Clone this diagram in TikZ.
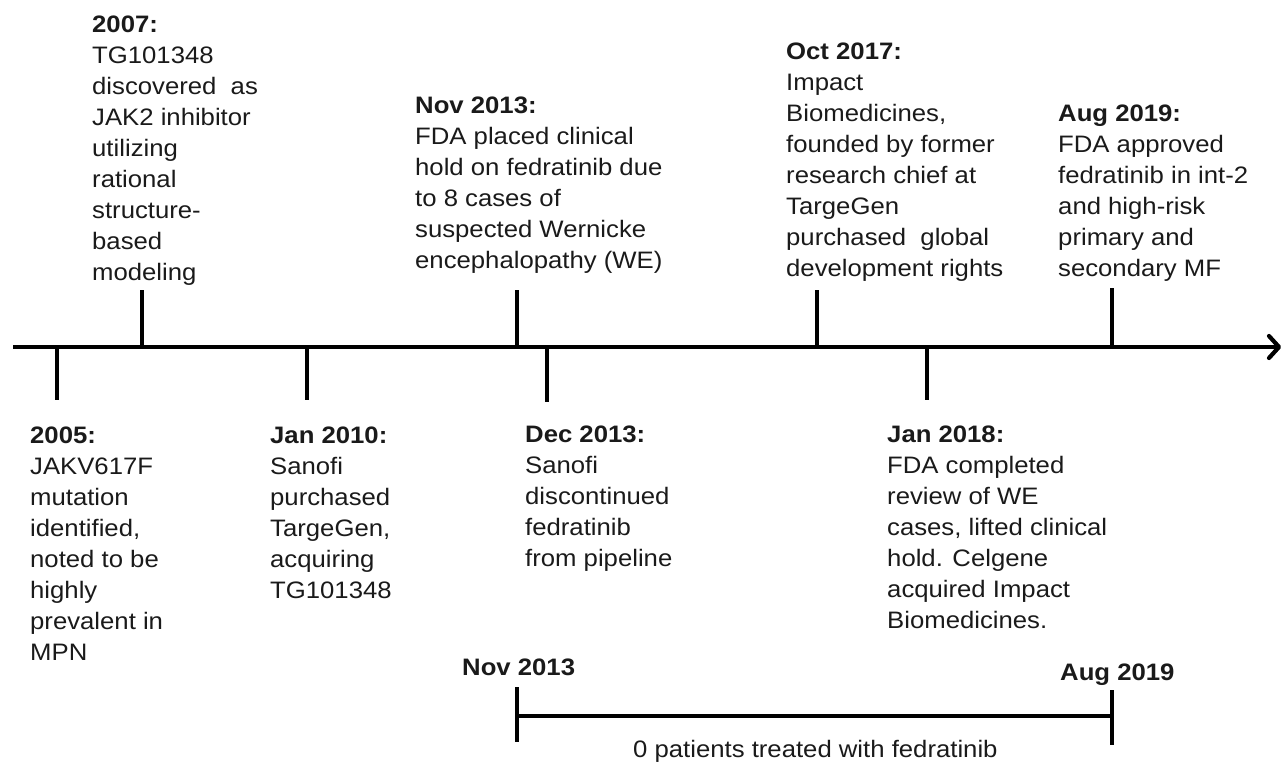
\documentclass[tikz,border=0pt]{standalone}
\usepackage{fontspec}
\setmainfont{Liberation Sans}[FakeStretch=1.08]
\usetikzlibrary{arrows.meta}
\newcommand{\evtext}[1]{\begin{tabular}[t]{@{}l@{}}#1\end{tabular}}
\definecolor{txt}{HTML}{1A1A1A}
\begin{document}
\begin{tikzpicture}[x=1pt,y=-1pt,
  ev/.style={anchor=base west, inner sep=0pt, text=txt, font=\fontsize{23.8}{31}\selectfont},
  lab/.style={anchor=base west, inner sep=0pt, text=txt, font=\fontsize{23.8}{31}\selectfont},
  tickline/.style={line width=3.6pt},
  axisline/.style={line width=3.6pt},
  chevron/.style={line width=4.2pt, line cap=round, line join=round}
]
\useasboundingbox (0,0) rectangle (1283,762);

% main axis with open chevron head
\coordinate (axL) at (13,347);
\coordinate (axR) at (1279,347);
\coordinate (hdT) at (1269,336);
\coordinate (hdB) at (1269,358);
\draw[axisline] (axL) -- (axR);
\draw[chevron] (hdT) -- (axR) -- (hdB);

% tick coordinates
\coordinate (t05a) at (57,347);   \coordinate (t05b) at (57,400);
\coordinate (t07a) at (142,347);  \coordinate (t07b) at (142,290);
\coordinate (t10a) at (307,347);  \coordinate (t10b) at (307,400);
\coordinate (t13a) at (517,347);  \coordinate (t13b) at (517,290);
\coordinate (t13da) at (547,347); \coordinate (t13db) at (547,402);
\coordinate (t17a) at (817,347);  \coordinate (t17b) at (817,290);
\coordinate (t18a) at (927,347);  \coordinate (t18b) at (927,400);
\coordinate (t19a) at (1112,347); \coordinate (t19b) at (1112,288);

\foreach \a/\b in {t05a/t05b,t07a/t07b,t10a/t10b,t13a/t13b,t13da/t13db,t17a/t17b,t18a/t18b,t19a/t19b}
  \draw[tickline] (\a) -- (\b);

% event texts (top)
\node[ev] (e2007) at (92,33) {\evtext{\textbf{2007:}\\TG101348\\discovered\ \ as\\JAK2 inhibitor\\utilizing\\rational\\structure-\\based\\modeling}};
\node[ev] (e1311) at (415,114) {\evtext{\textbf{Nov 2013:}\\FDA placed clinical\\hold on fedratinib due\\to 8 cases of\\suspected Wernicke\\encephalopathy (WE)}};
\node[ev] (e1710) at (786,60) {\evtext{\textbf{Oct 2017:}\\Impact\\Biomedicines,\\founded by former\\research chief at\\TargeGen\\purchased\ \ global\\development rights}};
\node[ev] (e1908) at (1058,122) {\evtext{\textbf{Aug 2019:}\\FDA approved\\fedratinib in int-2\\and high-risk\\primary and\\secondary MF}};

% event texts (bottom)
\node[ev] (e2005) at (30,443) {\evtext{\textbf{2005:}\\JAKV617F\\mutation\\identified,\\noted to be\\highly\\prevalent in\\MPN}};
\node[ev] (e1001) at (270,443) {\evtext{\textbf{Jan 2010:}\\Sanofi\\purchased\\TargeGen,\\acquiring\\TG101348}};
\node[ev] (e1312) at (525,442) {\evtext{\textbf{Dec 2013:}\\Sanofi\\discontinued\\fedratinib\\from pipeline}};
\node[ev] (e1801) at (887,442) {\evtext{\textbf{Jan 2018:}\\FDA completed\\review of WE\\cases, lifted clinical\\hold. Celgene\\acquired Impact\\Biomedicines.}};

% bracket
\coordinate (bLa) at (517,687); \coordinate (bLb) at (517,742);
\coordinate (bRa) at (1112,690); \coordinate (bRb) at (1112,745);
\coordinate (bL) at (517,716); \coordinate (bR) at (1112,716);
\draw[tickline] (bLa) -- (bLb);
\draw[tickline] (bRa) -- (bRb);
\draw[tickline] (bL) -- (bR);
\node[lab] (bNov) at (462,675) {\textbf{Nov 2013}};
\node[lab] (bAug) at (1060,680) {\textbf{Aug 2019}};
\node[lab] (bTxt) at (633,757) {0 patients treated with fedratinib};
\end{tikzpicture}
\end{document}
